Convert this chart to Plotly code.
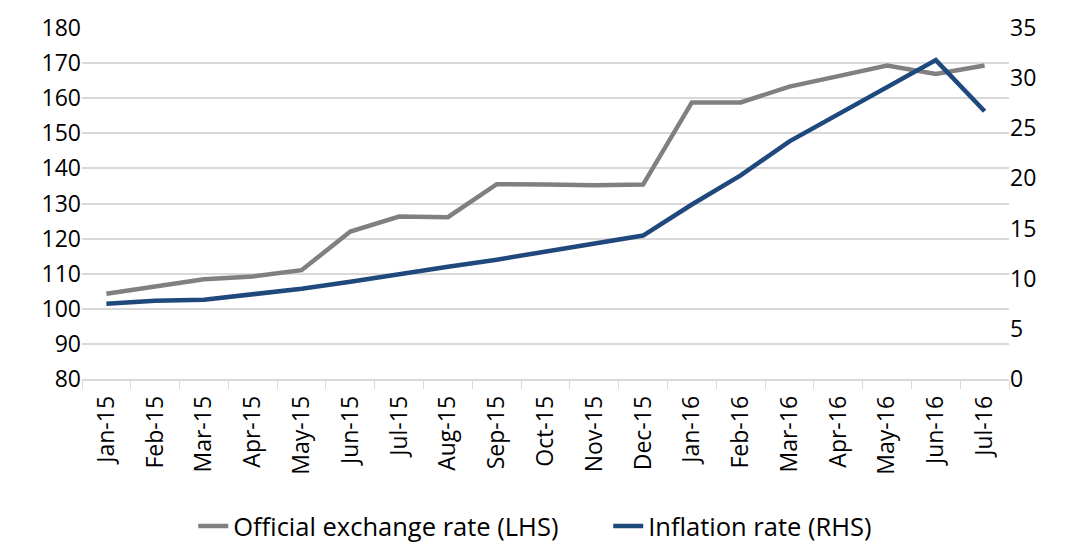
import plotly.graph_objects as go

months = ["Jan-15", "Feb-15", "Mar-15", "Apr-15", "May-15", "Jun-15", "Jul-15", "Aug-15",
          "Sep-15", "Oct-15", "Nov-15", "Dec-15", "Jan-16", "Feb-16", "Mar-16", "Apr-16",
          "May-16", "Jun-16", "Jul-16"]
exchange_rate = [104.3, 106.4, 108.4, 109.2, 111.0, 122.0, 126.3, 126.1, 135.5, 135.4,
                 135.2, 135.4, 158.8, 158.8, 163.3, 166.3, 169.3, 166.9, 169.3]
inflation_rate = [7.5, 7.8, 7.9, 8.4, 9.0, 9.7, 10.5, 11.2, 11.9, 12.7,
                  13.5, 14.3, 17.4, 20.3, 23.7, 26.4, 29.2, 31.8, 26.7]

fig = go.Figure()
fig.add_trace(go.Scatter(x=months, y=exchange_rate, name="Official exchange rate (LHS)",
                         mode="lines", line=dict(color="#808080", width=4.5), yaxis="y"))
fig.add_trace(go.Scatter(x=months, y=inflation_rate, name="Inflation rate (RHS)",
                         mode="lines", line=dict(color="#1F497D", width=4.5), yaxis="y2"))

font_family = "Open Sans, Liberation Sans, sans-serif"
fig.update_layout(
    width=1066, height=543,
    margin=dict(l=82, r=57, t=28, b=164, autoexpand=False),
    plot_bgcolor="white", paper_bgcolor="white",
    font=dict(family=font_family, color="#000000", size=21),
    showlegend=True,
    legend=dict(orientation="h", x=0.12, xanchor="left", y=-0.42, yanchor="middle",
                font=dict(size=25.5), traceorder="normal", entrywidth=370),
    xaxis=dict(
        type="category", tickangle=-90, showgrid=False, automargin=False,
        showline=True, linecolor="#d9d9d9", linewidth=1.5,
        ticks="outside", tickson="boundaries", ticklen=8, tickcolor="#d9d9d9",
        tickfont=dict(size=23), ticklabelstandoff=6, range=[-0.5, 18.5],
    ),
    yaxis=dict(
        range=[80, 180], dtick=10, showgrid=True, gridcolor="#d9d9d9", gridwidth=1.5,
        zeroline=False, showline=False, tickfont=dict(size=23), ticks="", automargin=False,
    ),
    yaxis2=dict(
        range=[0, 35], dtick=5, overlaying="y", side="right", showgrid=False, automargin=False,
        zeroline=False, showline=False, tickfont=dict(size=23), ticks="",
    ),
)

fig.write_html("out.html", config={"displayModeBar": False},
               post_script="document.body.style.margin='0';")
